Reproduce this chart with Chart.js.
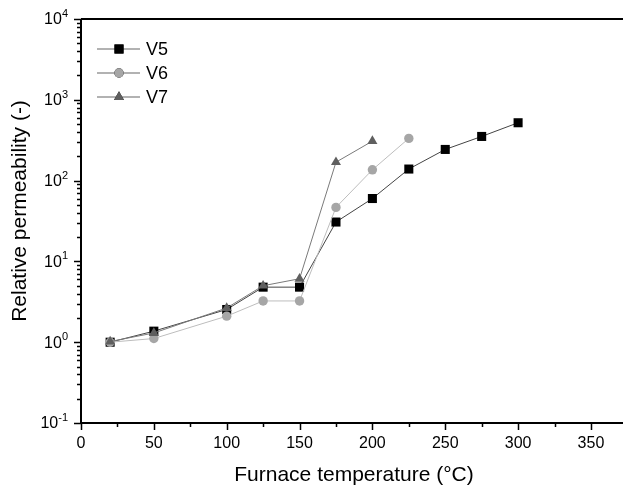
<!DOCTYPE html>
<html>
<head>
<meta charset="utf-8">
<script src="https://cdn.jsdelivr.net/npm/chart.js@4/dist/chart.umd.min.js"></script>
<style>
  html, body { margin: 0; padding: 0; background: #fff; overflow: hidden; }
  canvas { display: block; }
</style>
</head>
<body>
<canvas id="grafico" width="623" height="488"></canvas>
<script>
// Datos
const tempV5 = [20, 50, 100, 125, 150, 175, 200, 225, 250, 275, 300];
const permV5 = [1.0, 1.37, 2.54, 4.8, 4.8, 30.7, 60, 139, 243, 352, 520];
const tempV6 = [20, 50, 100, 125, 150, 175, 200, 225];
const permV6 = [1.0, 1.11, 2.1, 3.24, 3.24, 46.6, 136, 333];
const tempV7 = [20, 50, 100, 125, 150, 175, 200];
const permV7 = [1.02, 1.3, 2.65, 5.0, 6.1, 169, 308];

const ticksX = [0, 50, 100, 150, 200, 250, 300, 350];
const ticksXMenores = [25, 75, 125, 175, 225, 275, 325];
const ticksY = [0.1, 1, 10, 100, 1000, 10000];
const exponentesY = ['-1', '0', '1', '2', '3', '4'];

const tituloX = 'Furnace temperature (°C)';
const tituloY = 'Relative permeability (-)';
const fuente = 'Arial, "Liberation Sans", sans-serif';

function puntos(xs, ys) {
  return xs.map((x, i) => ({ x: x, y: ys[i] }));
}

// Ejes, ticks, titulos y leyenda dibujados a mano
const ejesPlugin = {
  id: 'ejes',
  afterDraw(chart) {
    const ctx = chart.ctx;
    const area = chart.chartArea;
    const sx = chart.scales.x;
    const sy = chart.scales.y;
    ctx.save();
    ctx.strokeStyle = '#000';
    ctx.fillStyle = '#000';

    // lineas de ejes
    ctx.lineWidth = 2;
    ctx.beginPath();
    ctx.moveTo(area.left, area.top);
    ctx.lineTo(area.left, area.bottom);
    ctx.lineTo(area.right, area.bottom);
    ctx.moveTo(area.left, area.top);
    ctx.lineTo(area.right, area.top);
    ctx.stroke();

    // ticks eje x
    ctx.lineWidth = 1.5;
    ctx.beginPath();
    ticksX.forEach(v => {
      const px = Math.round(sx.getPixelForValue(v)) + 0.5;
      ctx.moveTo(px, area.bottom);
      ctx.lineTo(px, area.bottom + 7);
    });
    ticksXMenores.forEach(v => {
      const px = Math.round(sx.getPixelForValue(v)) + 0.5;
      ctx.moveTo(px, area.bottom);
      ctx.lineTo(px, area.bottom + 4);
    });
    ctx.stroke();

    ctx.font = '16px ' + fuente;
    ctx.textAlign = 'center';
    ctx.textBaseline = 'middle';
    ticksX.forEach(v => {
      ctx.fillText(String(v), sx.getPixelForValue(v), area.bottom + 21);
    });

    // ticks eje y (log)
    ctx.beginPath();
    ticksY.forEach((v, i) => {
      const py = Math.round(sy.getPixelForValue(v)) + 0.5;
      ctx.moveTo(area.left, py);
      ctx.lineTo(area.left - 7, py);
      if (i < ticksY.length - 1) {
        for (let m = 2; m <= 9; m++) {
          const pm = Math.round(sy.getPixelForValue(v * m)) + 0.5;
          ctx.moveTo(area.left, pm);
          ctx.lineTo(area.left - 4, pm);
        }
      }
    });
    ctx.stroke();

    ticksY.forEach((v, i) => {
      const py = sy.getPixelForValue(v);
      ctx.font = '11px ' + fuente;
      ctx.textAlign = 'right';
      ctx.textBaseline = 'alphabetic';
      const derecha = area.left - 13;
      const anchoExp = ctx.measureText(exponentesY[i]).width;
      ctx.fillText(exponentesY[i], derecha, py - 2);
      ctx.font = '16px ' + fuente;
      ctx.textBaseline = 'middle';
      ctx.fillText('10', derecha - anchoExp, py + 1);
    });

    // titulos
    ctx.font = '21px ' + fuente;
    ctx.textAlign = 'center';
    ctx.textBaseline = 'middle';
    ctx.fillText(tituloX, 354, 475);
    ctx.save();
    ctx.translate(20, 211);
    ctx.rotate(-Math.PI / 2);
    ctx.fillText(tituloY, 0, 0);
    ctx.restore();

    // leyenda
    ctx.font = '18px ' + fuente;
    ctx.textAlign = 'left';
    chart.data.datasets.forEach((ds, i) => {
      const y = 49 + i * 24;
      ctx.strokeStyle = '#999';
      ctx.lineWidth = 1.5;
      ctx.beginPath();
      ctx.moveTo(97, y);
      ctx.lineTo(140, y);
      ctx.stroke();
      Chart.helpers.drawPoint(ctx, {
        pointStyle: ds.pointStyle,
        radius: ds.pointRadius,
        rotation: 0,
        borderWidth: 0
      }, 119, y);
      ctx.fillStyle = ds.pointBackgroundColor;
      ctx.fill();
      ctx.fillStyle = '#000';
      ctx.fillText(ds.label, 146, y + 1);
    });

    ctx.restore();
  }
};

new Chart(document.getElementById('grafico'), {
  type: 'scatter',
  data: {
    datasets: [
      {
        label: 'V5',
        data: puntos(tempV5, permV5),
        showLine: true,
        borderColor: '#444',
        borderWidth: 1,
        pointStyle: 'rect',
        pointRadius: 6.4,
        pointBackgroundColor: '#000',
        pointBorderWidth: 0,
        order: 3
      },
      {
        label: 'V6',
        data: puntos(tempV6, permV6),
        showLine: true,
        borderColor: '#bdbdbd',
        borderWidth: 1,
        pointStyle: 'circle',
        pointRadius: 4.7,
        pointBackgroundColor: '#a6a6a6',
        pointBorderWidth: 0,
        order: 2
      },
      {
        label: 'V7',
        data: puntos(tempV7, permV7),
        showLine: true,
        borderColor: '#7a7a7a',
        borderWidth: 1,
        pointStyle: 'triangle',
        pointRadius: 5.8,
        pointBackgroundColor: '#5f5f5f',
        pointBorderWidth: 0,
        order: 1
      }
    ]
  },
  options: {
    responsive: false,
    animation: false,
    devicePixelRatio: 1,
    layout: { autoPadding: false, padding: { left: 81, top: 19, right: 0, bottom: 65 } },
    plugins: { legend: { display: false }, tooltip: { enabled: false } },
    scales: {
      x: { type: 'linear', display: false, min: 0, max: 372 },
      y: { type: 'logarithmic', display: false, min: 0.1, max: 10000 }
    }
  },
  plugins: [ejesPlugin]
});
</script>
</body>
</html>
